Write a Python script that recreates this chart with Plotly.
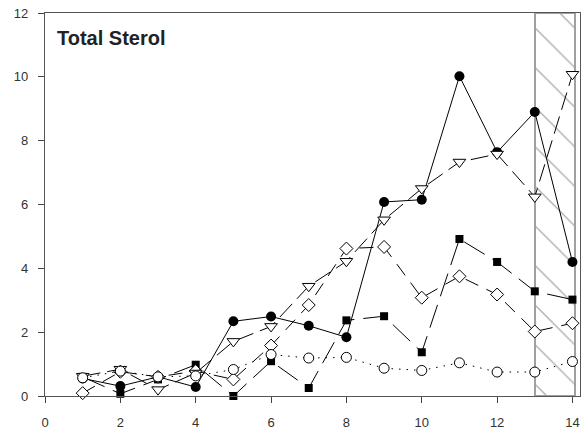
import plotly.graph_objects as go

days = list(range(1, 15))
filled_circle = [0.55, 0.31, 0.60, 0.28, 2.34, 2.49, 2.20, 1.84, 6.08, 6.15, 10.02, 7.64, 8.90, 4.20]
filled_square = [0.60, 0.07, 0.52, 0.98, 0.00, 1.09, 0.25, 2.37, 2.50, 1.37, 4.92, 4.20, 3.28, 3.02]
open_diamond = [0.09, 0.76, 0.60, 0.78, 0.52, 1.58, 2.85, 4.62, 4.67, 3.08, 3.75, 3.18, 2.02, 2.28]
open_triangle = [0.62, 0.84, 0.20, 0.72, 1.71, 2.18, 3.44, 4.22, 5.52, 6.50, 7.33, 7.58, 6.24, 10.08]
open_circle = [0.57, 0.78, 0.60, 0.63, 0.83, 1.30, 1.19, 1.21, 0.87, 0.80, 1.04, 0.75, 0.75, 1.08]
x_ticks = [0, 2, 4, 6, 8, 10, 12, 14]
y_ticks = [0, 2, 4, 6, 8, 10, 12]
shade_start, shade_end, shade_top = 13.0, 14.07, 12.0

fig = go.Figure()

# hatched region
fig.add_trace(go.Bar(
    x=[(shade_start + shade_end) / 2], y=[shade_top], width=[shade_end - shade_start],
    marker=dict(color="white", line=dict(color="#a0a0a0", width=2),
                pattern=dict(shape="\\", fgcolor="#555555", bgcolor="white",
                             size=28, solidity=0.045)),
    showlegend=False, hoverinfo="skip"))

common_line = dict(color="black", width=1)

fig.add_trace(go.Scatter(x=days, y=filled_circle, mode="lines+markers",
    line=dict(color="black", width=1),
    marker=dict(symbol="circle", size=10, color="black"), cliponaxis=False, showlegend=False))
fig.add_trace(go.Scatter(x=days, y=filled_square, mode="lines+markers",
    line=dict(color="black", width=1, dash="24px,9px"),
    marker=dict(symbol="square", size=8, color="black"), cliponaxis=False, showlegend=False))
fig.add_trace(go.Scatter(x=days, y=open_diamond, mode="lines+markers",
    line=dict(color="black", width=1, dash="14px,9px"),
    marker=dict(symbol="diamond", size=10, color="white", line=common_line), cliponaxis=False, showlegend=False))
fig.add_trace(go.Scatter(x=days, y=open_triangle, mode="lines+markers",
    line=dict(color="black", width=1, dash="18px,7px"),
    marker=dict(symbol="triangle-down", size=11, color="white", line=common_line), cliponaxis=False, showlegend=False))
fig.add_trace(go.Scatter(x=days, y=open_circle, mode="lines+markers",
    line=dict(color="black", width=1, dash="1.5px,6px"),
    marker=dict(symbol="circle", size=10, color="white", line=common_line), cliponaxis=False, showlegend=False))

axis_common = dict(showgrid=False, zeroline=False, showline=True, linecolor="#555", linewidth=1.2,
                   mirror=True, ticks="outside", ticklen=6, tickcolor="#444",
                   tickfont=dict(family="Liberation Sans, Arial, sans-serif", size=13, color="#333"))

fig.update_xaxes(range=[0, 14.2], tickvals=x_ticks, ticklabelstandoff=8, **axis_common)
fig.update_yaxes(range=[0, 12], tickvals=y_ticks, ticklabelstandoff=7, **axis_common)

fig.add_annotation(text="<b>Total Sterol</b>", xref="paper", yref="paper",
                   x=0.018, y=0.968, xanchor="left", yanchor="top", showarrow=False,
                   font=dict(family="Liberation Sans, Arial, sans-serif", size=20, color="#222"))

fig.update_layout(width=586, height=435, margin=dict(l=45, r=5, t=13, b=36),
                  plot_bgcolor="white", paper_bgcolor="white", bargap=0)

fig.write_html("out.html", config={"displayModeBar": False},
               post_script="document.body.style.margin='0px';document.body.style.overflow='hidden';")
